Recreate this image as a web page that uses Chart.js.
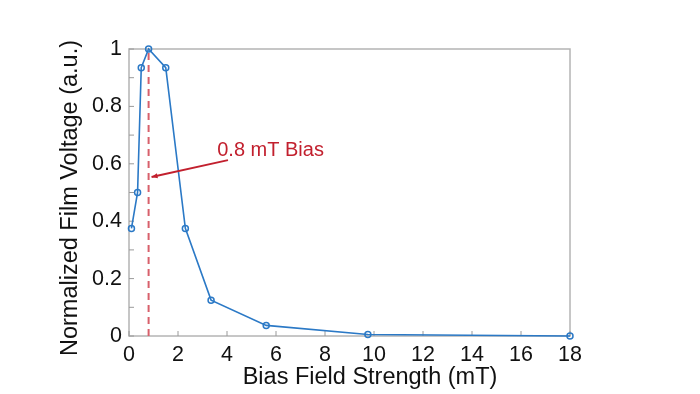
<!DOCTYPE html>
<html>
<head>
<meta charset="utf-8">
<script src="https://cdn.jsdelivr.net/npm/chart.js@4.4.1/dist/chart.umd.min.js"></script>
<style>
html,body{margin:0;padding:0;background:#fff;}
#wrap{width:700px;height:394px;position:relative;}
</style>
</head>
<body>
<div id="wrap"><canvas id="c" width="700" height="394"></canvas></div>
<script>
// ---- data ----
const fieldValues = [0.1, 0.35, 0.5, 0.8, 1.5, 2.3, 3.35, 5.6, 9.75, 18];
const voltageValues = [0.375, 0.5, 0.935, 1.0, 0.935, 0.375, 0.125, 0.037, 0.005, 0.0];
const biasField = 0.8;
const xTickValues = [0, 2, 4, 6, 8, 10, 12, 14, 16, 18];
const yTickLabels = ['0', '0.2', '0.4', '0.6', '0.8', '1'];
const annotationText = '0.8 mT Bias';
const arrowFrom = [4.04, 0.613];
const arrowTo = [0.92, 0.554];
const labelAt = [3.6, 0.627];
const xTitle = 'Bias Field Strength (mT)';
const yTitle = 'Normalized Film Voltage (a.u.)';

const FONT = '"Liberation Sans", Arial, Helvetica, sans-serif';
const BLUE = '#2b79c6';
const RED_DASH = '#d8606b';
const RED_TEXT = '#c2202e';
const FRAME = '#b4b4b4';
const TEXT = '#111';

const points = fieldValues.map((x, i) => ({x, y: voltageValues[i]}));

const decor = {
  id: 'decor',
  beforeDatasetsDraw(chart) {
    const {ctx, chartArea: a, scales} = chart;
    ctx.save();
    ctx.strokeStyle = FRAME;
    ctx.lineWidth = 1.5;
    ctx.strokeRect(a.left, a.top, a.right - a.left, a.bottom - a.top);
    ctx.lineWidth = 1;
    ctx.strokeStyle = '#9a9a9a';
    ctx.beginPath();
    scales.x.ticks.forEach(t => {
      const px = scales.x.getPixelForValue(t.value);
      ctx.moveTo(px, a.bottom);
      ctx.lineTo(px, a.bottom - 5);
    });
    scales.y.ticks.forEach(t => {
      const py = scales.y.getPixelForValue(t.value);
      ctx.moveTo(a.left, py);
      ctx.lineTo(a.left + 5, py);
    });
    ctx.stroke();
    ctx.restore();
  },
  afterDatasetsDraw(chart) {
    const {ctx, scales} = chart;
    const x = scales.x, y = scales.y;
    ctx.save();
    const x1 = x.getPixelForValue(arrowFrom[0]), y1 = y.getPixelForValue(arrowFrom[1]);
    const x2 = x.getPixelForValue(arrowTo[0]), y2 = y.getPixelForValue(arrowTo[1]);
    ctx.strokeStyle = RED_TEXT;
    ctx.fillStyle = RED_TEXT;
    ctx.lineWidth = 1.8;
    ctx.beginPath();
    ctx.moveTo(x1, y1);
    ctx.lineTo(x2, y2);
    ctx.stroke();
    const ang = Math.atan2(y2 - y1, x2 - x1);
    const L = 6, W = 2.5;
    ctx.beginPath();
    ctx.moveTo(x2, y2);
    ctx.lineTo(x2 - L * Math.cos(ang) + W * Math.sin(ang), y2 - L * Math.sin(ang) - W * Math.cos(ang));
    ctx.lineTo(x2 - L * Math.cos(ang) - W * Math.sin(ang), y2 - L * Math.sin(ang) + W * Math.cos(ang));
    ctx.closePath();
    ctx.fill();
    ctx.font = '20px ' + FONT;
    ctx.textBaseline = 'alphabetic';
    ctx.textAlign = 'left';
    ctx.fillText(annotationText, x.getPixelForValue(labelAt[0]), y.getPixelForValue(labelAt[1]));
    ctx.restore();
  },
  afterDraw(chart) {
    const {ctx} = chart;
    ctx.save();
    ctx.fillStyle = TEXT;
    ctx.font = '23.5px ' + FONT;
    ctx.textAlign = 'center';
    ctx.textBaseline = 'alphabetic';
    ctx.fillText(xTitle, 370, 384);
    ctx.translate(77, 198);
    ctx.rotate(-Math.PI / 2);
    ctx.fillText(yTitle, 0, 0);
    ctx.restore();
  }
};

new Chart(document.getElementById('c'), {
  type: 'scatter',
  data: {
    datasets: [
      {
        data: points,
        showLine: true,
        borderColor: BLUE,
        borderWidth: 1.6,
        pointRadius: 3,
        pointBorderWidth: 1.5,
        pointBorderColor: BLUE,
        pointBackgroundColor: 'rgba(255,255,255,0)',
        clip: false,
        order: 0
      },
      {
        data: [{x: biasField, y: 0}, {x: biasField, y: 1}],
        showLine: true,
        borderColor: RED_DASH,
        borderWidth: 2,
        borderDash: [7, 5],
        pointRadius: 0,
        order: 1
      }
    ]
  },
  plugins: [decor],
  options: {
    responsive: false,
    animation: false,
    events: [],
    layout: {padding: {left: 0, right: 130, top: 49, bottom: 0}},
    plugins: {legend: {display: false}, tooltip: {enabled: false}},
    scales: {
      x: {
        type: 'linear',
        min: 0, max: 18,
        afterFit(s) { s.height = 58; },
        afterBuildTicks(s) { s.ticks = xTickValues.map(v => ({value: v})); },
        grid: {display: false, drawTicks: false},
        border: {display: false},
        ticks: {
          padding: 6,
          color: TEXT,
          font: {family: FONT, size: 21.5},
          maxRotation: 0,
          autoSkip: false,
          callback: v => String(v)
        }
      },
      y: {
        type: 'linear',
        min: 0, max: 1,
        afterFit(s) { s.width = 129; },
        grid: {display: false, drawTicks: false},
        border: {display: false},
        ticks: {
          stepSize: 0.1,
          padding: 7,
          color: TEXT,
          font: {family: FONT, size: 21.5},
          autoSkip: false,
          callback: v => {
            const k = Math.round(v * 10);
            return k % 2 === 0 ? yTickLabels[k / 2] : '';
          }
        }
      }
    }
  }
});
</script>
</body>
</html>
